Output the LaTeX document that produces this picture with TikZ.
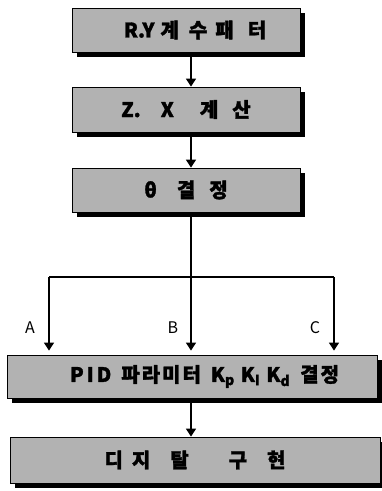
\documentclass[tikz,border=0pt]{standalone}
\usepackage{fontspec}
\setmainfont{Noto Sans CJK KR}[BoldFeatures={FakeBold=1.5}]
\usetikzlibrary{arrows.meta,shadows}
\tikzset{
  box/.style={draw=black, line width=0.8pt, fill=black!30, minimum width=228pt, minimum height=44pt,
    inner sep=0pt, font=\fontsize{20}{22}\selectfont\bfseries,
    drop shadow={shadow xshift=4.5pt, shadow yshift=-4.5pt, fill=black, opacity=1}},
  widebox/.style={box, minimum width=370pt},
  arr/.style={line width=1.3pt, -{Triangle[width=10pt,length=8pt]}},
  ln/.style={line width=1.3pt},
  lab/.style={font=\fontsize{16}{18}\selectfont}
}
\begin{document}
\begin{tikzpicture}[x=1pt,y=-1pt]
\useasboundingbox (0,0) rectangle (382,491);
\node[box] (b1) at (186,30) {\hspace{18pt}R.Y\hspace{6pt}계\hspace{10pt}수\hspace{8pt}패\hspace{14pt}터};
\node[box, minimum height=45pt] (b2) at (186,109.5) {Z.\hspace{20pt}X\hspace{26pt}계\hspace{14pt}산};
\node[box] (b3) at (186,190) {θ\hspace{20pt}결\hspace{14pt}정\hspace{12pt}};
\node[widebox, minimum height=43pt] (pid) at (192,376.5) {\hspace{25pt}P\hspace{3pt}I\hspace{3pt}D\hspace{10pt}파\hspace{2pt}라\hspace{2pt}미\hspace{2pt}터\hspace{10pt}$\mathbf{K}_{\mathbf{p}}\hspace{6pt}\mathbf{K}_{\mathbf{I}}\hspace{6pt}\mathbf{K}_{\mathbf{d}}$\hspace{10pt}결\hspace{2pt}정};
\node[widebox, minimum height=46pt] (dig) at (195,460) {디\hspace{9pt}지\hspace{20pt}탈\hspace{40pt}구\hspace{20pt}현\hspace{23pt}};
\coordinate (ax) at (191,0);
\coordinate (hl) at (49,277);
\coordinate (hm) at (191,277);
\coordinate (hr) at (334,277);
\draw[arr] (b1.south -| ax) -- (b2.north -| ax);
\draw[arr] (b2.south -| ax) -- (b3.north -| ax);
\draw[ln] (b3.south -| ax) -- (hm);
\draw[ln] (hl) -- (hr);
\draw[arr, shorten >=4pt] (hl) -- (pid.north -| hl);
\draw[arr, shorten >=4pt] (hm) -- (pid.north -| hm);
\draw[arr, shorten >=4pt] (hr) -- (pid.north -| hr);
\draw[arr] (pid.south -| ax) -- (dig.north -| ax);
\node[lab] (la) at (30,328) {A};
\node[lab] (lb) at (173,328) {B};
\node[lab] (lc) at (315,328) {C};
\end{tikzpicture}
\end{document}
